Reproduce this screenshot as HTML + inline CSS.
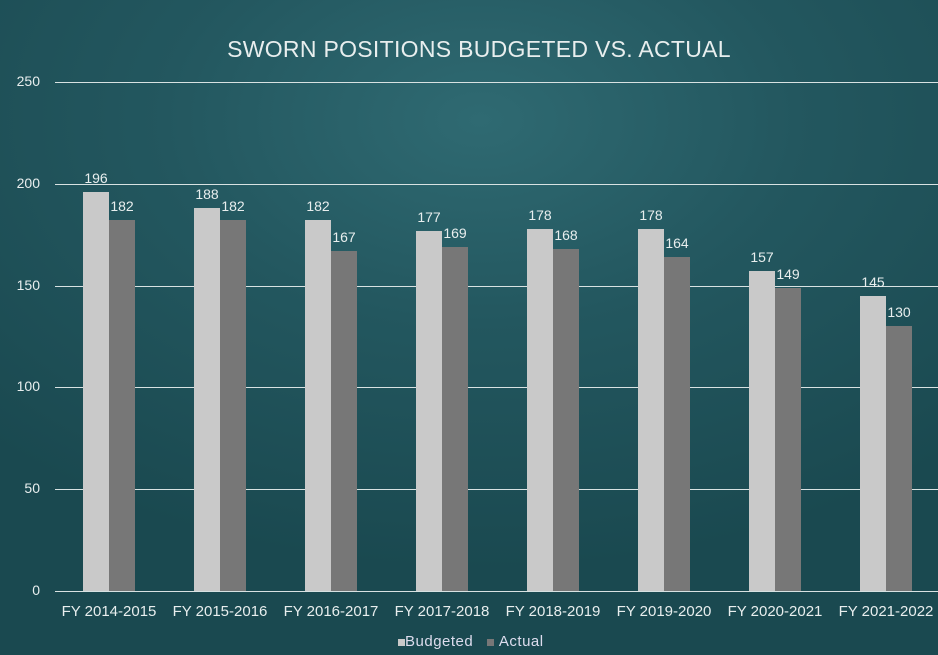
<!DOCTYPE html><html><head><style>
body{margin:0;width:938px;height:655px;overflow:hidden;background:radial-gradient(ellipse 700px 450px at 480px 120px,#2f6a72 0%,#23575f 45%,#1a4950 100%);font-family:"Liberation Sans",sans-serif;color:#e8eeee;position:relative}
.t{position:absolute;top:36px;left:0;width:958px;text-align:center;font-size:23px;letter-spacing:0.3px}
.g{position:absolute;left:55px;width:883px;height:1px;background:#d8e2e2}
.y{position:absolute;left:0;width:40px;text-align:right;font-size:14px}
.b{position:absolute;width:26px;background:#c9c9c9}
.a{position:absolute;width:26px;background:#777}
.v{position:absolute;width:40px;text-align:center;font-size:14px}
.x{position:absolute;top:603px;width:120px;text-align:center;font-size:15px}
</style></head><body>
<div class="t">SWORN POSITIONS BUDGETED VS. ACTUAL</div>
<div id="c"></div>
<div style="position:absolute;top:633px;left:398px;font-size:15px;color:#dde;letter-spacing:0.5px">
<span style="display:inline-block;width:7px;height:7px;background:#c9c9c9"></span>Budgeted&nbsp;&nbsp;&nbsp;<span style="display:inline-block;width:7px;height:7px;background:#777"></span>&nbsp;Actual</div>
<script>
var h='',z=591,s=2.036;
[0,50,100,150,200,250].forEach(function(v){var y=Math.round(z-v*s);h+='<div class="g" style="top:'+y+'px"></div><div class="y" style="top:'+(y-9)+'px">'+v+'</div>';});
var B=[196,188,182,177,178,178,157,145],A=[182,182,167,169,168,164,149,130];
for(var i=0;i<8;i++){var c=109+111*i;
var yb=z-B[i]*s,ya=z-A[i]*s;
h+='<div class="b" style="left:'+(c-26)+'px;top:'+yb+'px;height:'+(z-yb)+'px"></div>';
h+='<div class="a" style="left:'+c+'px;top:'+ya+'px;height:'+(z-ya)+'px"></div>';
h+='<div class="v" style="left:'+(c-33)+'px;top:'+(yb-22)+'px">'+B[i]+'</div>';
h+='<div class="v" style="left:'+(c-7)+'px;top:'+(ya-22)+'px">'+A[i]+'</div>';
h+='<div class="x" style="left:'+(c-60)+'px">FY '+(2014+i)+'-'+(2015+i)+'</div>';}
document.getElementById('c').innerHTML=h;
</script></body></html>
